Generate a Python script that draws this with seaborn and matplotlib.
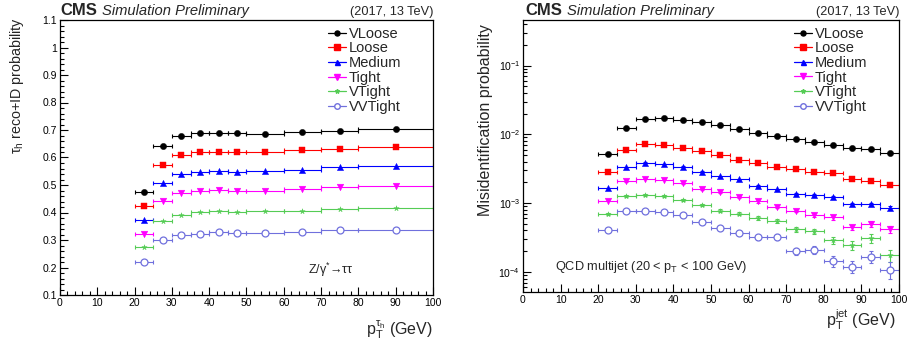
import numpy as np
import pandas as pd
import matplotlib
matplotlib.use("Agg")
import matplotlib.pyplot as plt
import seaborn as sns
from matplotlib.lines import Line2D
from matplotlib.ticker import MultipleLocator, LogLocator, NullFormatter

# ---------------- data ----------------
working_points = ["VLoose", "Loose", "Medium", "Tight", "VTight", "VVTight"]

# left: tau_h reco+ID efficiency (Z/gamma* -> tautau)
eff_bin_edges = [20, 25, 30, 35, 40, 45, 50, 60, 70, 80, 100]
eff_VLoose  = [0.473, 0.641, 0.678, 0.689, 0.689, 0.689, 0.687, 0.692, 0.698, 0.705]
eff_Loose   = [0.424, 0.574, 0.610, 0.619, 0.621, 0.621, 0.621, 0.627, 0.632, 0.639]
eff_Medium  = [0.374, 0.506, 0.540, 0.547, 0.550, 0.548, 0.550, 0.555, 0.564, 0.569]
eff_Tight   = [0.322, 0.442, 0.472, 0.479, 0.482, 0.477, 0.479, 0.487, 0.494, 0.498]
eff_VTight  = [0.273, 0.370, 0.392, 0.402, 0.404, 0.403, 0.404, 0.407, 0.414, 0.416]
eff_VVTight = [0.221, 0.299, 0.318, 0.321, 0.328, 0.324, 0.324, 0.330, 0.336, 0.336]

# right: jet -> tau_h misidentification probability (QCD multijet)
fake_bin_edges = [20, 25, 30, 35, 40, 45, 50, 55, 60, 65, 70, 75, 80, 85, 90, 95, 100]
fake_VLoose  = [5.14e-3, 1.25e-2, 1.65e-2, 1.74e-2, 1.59e-2, 1.52e-2, 1.35e-2, 1.18e-2,
                1.045e-2, 9.46e-3, 8.47e-3, 7.83e-3, 7.10e-3, 6.42e-3, 6.07e-3, 5.43e-3]
fake_Loose   = [2.79e-3, 6.00e-3, 7.16e-3, 7.01e-3, 6.42e-3, 5.80e-3, 4.97e-3, 4.26e-3,
                3.85e-3, 3.34e-3, 3.09e-3, 2.82e-3, 2.70e-3, 2.26e-3, 2.09e-3, 1.83e-3]
fake_Medium  = [1.66e-3, 3.37e-3, 3.89e-3, 3.72e-3, 3.37e-3, 2.85e-3, 2.47e-3, 2.21e-3,
                1.77e-3, 1.58e-3, 1.36e-3, 1.33e-3, 1.21e-3, 9.7e-4, 9.7e-4, 8.5e-4]
fake_Tight   = [1.09e-3, 2.07e-3, 2.26e-3, 2.19e-3, 1.94e-3, 1.60e-3, 1.43e-3, 1.23e-3,
                1.06e-3, 8.9e-4, 7.8e-4, 6.67e-4, 6.24e-4, 4.47e-4, 5.0e-4, 4.19e-4]
fake_VTight  = [6.97e-4, 1.27e-3, 1.31e-3, 1.27e-3, 1.12e-3, 9.31e-4, 7.8e-4, 6.97e-4,
                6.04e-4, 5.46e-4, 4.14e-4, 3.88e-4, 2.87e-4, 2.43e-4, 3.07e-4, 1.76e-4]
fake_VVTight = [4.05e-4, 7.8e-4, 7.8e-4, 7.36e-4, 6.74e-4, 5.4e-4, 4.33e-4, 3.70e-4,
                3.21e-4, 3.24e-4, 1.99e-4, 2.10e-4, 1.44e-4, 1.19e-4, 1.67e-4, 1.08e-4]

# relative statistical uncertainties of the misidentification probabilities
fake_relerr_VLoose  = [0.005] * 16
fake_relerr_Loose   = [0.008, 0.008, 0.008, 0.008, 0.01, 0.01, 0.01, 0.015, 0.015, 0.02, 0.02, 0.02, 0.03, 0.03, 0.03, 0.04]
fake_relerr_Medium  = [0.01, 0.01, 0.01, 0.01, 0.015, 0.015, 0.02, 0.02, 0.025, 0.03, 0.03, 0.035, 0.04, 0.05, 0.05, 0.06]
fake_relerr_Tight   = [0.01, 0.01, 0.01, 0.01, 0.02, 0.02, 0.03, 0.03, 0.04, 0.05, 0.05, 0.06, 0.08, 0.09, 0.09, 0.12]
fake_relerr_VTight  = [0.02, 0.02, 0.02, 0.02, 0.03, 0.04, 0.05, 0.05, 0.06, 0.07, 0.08, 0.09, 0.12, 0.14, 0.14, 0.20]
fake_relerr_VVTight = [0.03, 0.03, 0.03, 0.03, 0.04, 0.05, 0.06, 0.07, 0.08, 0.09, 0.12, 0.13, 0.18, 0.20, 0.20, 0.28]

eff_series = [eff_VLoose, eff_Loose, eff_Medium, eff_Tight, eff_VTight, eff_VVTight]
fake_series = [fake_VLoose, fake_Loose, fake_Medium, fake_Tight, fake_VTight, fake_VVTight]
fake_relerrs = [fake_relerr_VLoose, fake_relerr_Loose, fake_relerr_Medium,
                fake_relerr_Tight, fake_relerr_VTight, fake_relerr_VVTight]

# ---------------- style ----------------
colors = ["#000000", "#ff0000", "#0000ff", "#ff00ff", "#55cc55", "#7070dd"]
markers = ["o", "s", "^", "v", "*", "o"]
msizes = [4.5, 4.6, 4.5, 4.8, 4.0, 5.0]
filled = [True, True, True, True, True, False]

sns.set_theme(style="ticks")
FONT = "Liberation Sans"
plt.rcParams["font.family"] = [FONT, "DejaVu Sans"]
plt.rcParams["mathtext.fontset"] = "custom"
plt.rcParams["mathtext.rm"] = FONT
plt.rcParams["mathtext.it"] = FONT + ":italic"
plt.rcParams["mathtext.bf"] = FONT + ":bold"
plt.rcParams["mathtext.default"] = "regular"

W, H = 909, 341
fig = plt.figure(figsize=(W / 100, H / 100), dpi=100)
fig.patch.set_facecolor("white")
ax1 = fig.add_axes([60 / W, 46 / H, 373 / W, 275 / H])
ax2 = fig.add_axes([523 / W, 49 / H, 376 / W, 272 / H])


def draw(ax, edges, series, relerrs=None):
    edges = np.asarray(edges, float)
    centers = 0.5 * (edges[1:] + edges[:-1])
    half = 0.5 * (edges[1:] - edges[:-1])
    for i, wp in enumerate(working_points):
        vals = np.asarray(series[i], float)
        yerr = None if relerrs is None else vals * np.asarray(relerrs[i])
        ax.errorbar(centers, vals, xerr=half, yerr=yerr, fmt="none",
                    ecolor=colors[i], elinewidth=0.8, capsize=1.3, capthick=0.8, zorder=2)
        df = pd.DataFrame({"pt": centers, "value": vals})
        sns.scatterplot(data=df, x="pt", y="value", ax=ax, marker=markers[i],
                        s=msizes[i] ** 2, color=colors[i],
                        edgecolor=colors[i], linewidth=0.9 if not filled[i] else 0.3,
                        legend=False, zorder=3)
        if not filled[i]:
            ax.collections[-1].set_facecolor("white")


draw(ax1, eff_bin_edges, eff_series)
draw(ax2, fake_bin_edges, fake_series, fake_relerrs)

# legend handles
handles = []
for i, wp in enumerate(working_points):
    handles.append(Line2D([0], [0], color=colors[i], lw=0.9, marker=markers[i],
                          markersize=msizes[i] * 0.8,
                          markerfacecolor=colors[i] if filled[i] else "white",
                          markeredgecolor=colors[i]))

for ax, x0 in [(ax1, 0.718), (ax2, 0.72)]:
    leg = ax.legend(handles, working_points, loc="upper left", bbox_to_anchor=(x0, 0.975),
                    frameon=False, fontsize=10.5, handlelength=1.25, handletextpad=0.2,
                    labelspacing=0.04, borderpad=0.0, borderaxespad=0.0)

# axes formatting
for ax in (ax1, ax2):
    ax.set_xlim(0, 100)
    ax.xaxis.set_major_locator(MultipleLocator(10))
    ax.xaxis.set_minor_locator(MultipleLocator(2))
    ax.tick_params(axis="both", which="both", direction="in", top=False, right=False,
                   labelsize=7.5, colors="black", width=0.8)
    ax.tick_params(axis="both", which="major", length=6)
    ax.tick_params(axis="both", which="minor", length=3)
    ax.tick_params(axis="x", pad=2)
    ax.tick_params(axis="y", pad=2)
    for sp in ax.spines.values():
        sp.set_visible(True)
        sp.set_color("black")
        sp.set_linewidth(0.9)
    ax.set_facecolor("white")
    ax.grid(False)

ax1.set_ylim(0.1, 1.1)
ax1.yaxis.set_major_locator(MultipleLocator(0.1))
ax1.yaxis.set_minor_locator(MultipleLocator(0.02))
ax1.yaxis.set_major_formatter(plt.FuncFormatter(lambda v, p: f"{v:g}"))

ax2.set_yscale("log")
ax2.set_ylim(5.1e-5, 0.46)
ax2.yaxis.set_major_locator(LogLocator(base=10, numticks=10))
ax2.yaxis.set_minor_locator(LogLocator(base=10, subs=np.arange(2, 10), numticks=20))
ax2.yaxis.set_minor_formatter(NullFormatter())

# axis titles
ax1.set_ylabel(r"$\tau_{h}$ reco+ID probability", fontsize=10.3, loc="top")
ax1.yaxis.set_label_coords(-0.092, 1.01)
ax2.set_ylabel("Misidentification probability", fontsize=11.5, loc="top")
ax2.yaxis.set_label_coords(-0.080, 0.985)

ax1.set_xlabel(r"$p_{T}^{\tau_{h}}$ (GeV)", fontsize=11.5, loc="right")
ax1.xaxis.label.set_va("baseline")
ax1.xaxis.set_label_coords(1.0, -0.143)
ax2.set_xlabel(r"$p_{T}^{jet}$ (GeV)", fontsize=11.5, loc="right")
ax2.xaxis.label.set_va("baseline")
ax2.xaxis.set_label_coords(0.99, -0.125)

# in-plot annotations
ax1.text(66.5, 0.192, "Z/$\\gamma^{*}$\u2192\u03c4\u03c4", fontsize=9, va="center", ha="left")
ax2.text(8.4, 1.05e-4, r"QCD multijet (20 < $p_{T}$ < 100 GeV)", fontsize=9.2, va="baseline", ha="left")

# headers
base_y = 1 - 15 / H
for ax_left, x_sim, x_right in [(60, 101.5, 433), (525, 567, 900)]:
    fig.text(ax_left / W, base_y, "CMS", fontsize=12, fontweight="bold", va="baseline", ha="left")
    fig.text(x_sim / W, base_y, "Simulation Preliminary", fontsize=10.6, fontstyle="italic",
             va="baseline", ha="left")
    fig.text(x_right / W, base_y, "(2017, 13 TeV)", fontsize=9.2, va="baseline", ha="right")

fig.savefig("out.png", dpi=100, facecolor="white")
